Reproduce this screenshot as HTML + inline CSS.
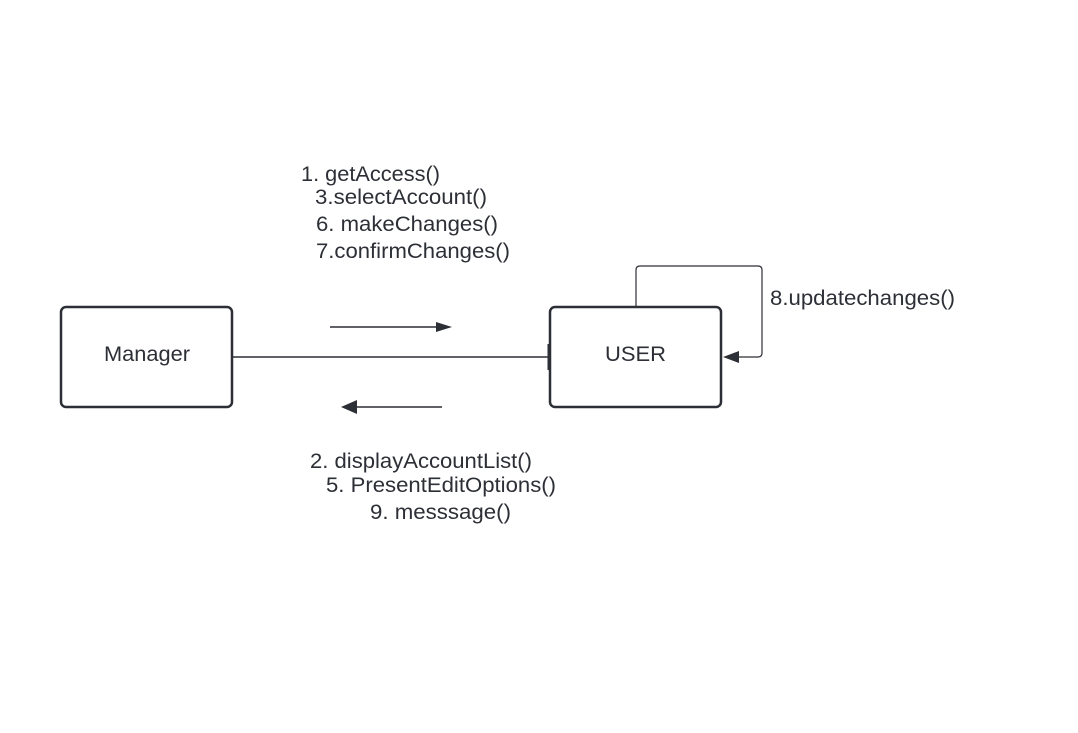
<!DOCTYPE html>
<html><head><meta charset="utf-8"><style>
html,body{margin:0;padding:0;background:#fff;}
svg text{font-family:"Liberation Sans",sans-serif;fill:#2d2f36;font-size:21px;}
</style></head><body>
<svg width="1078" height="728" viewBox="0 0 1078 728" xmlns="http://www.w3.org/2000/svg">
<rect width="1078" height="728" fill="#fff"/>
<rect x="61" y="307" width="171" height="100" rx="5" fill="#fff" stroke="#2d2f36" stroke-width="2.5"/>
<rect x="550" y="307" width="171" height="100" rx="5" fill="#fff" stroke="#2d2f36" stroke-width="2.5"/>
<text x="104" y="361" textLength="86" lengthAdjust="spacingAndGlyphs">Manager</text>
<text x="605" y="361" textLength="61" lengthAdjust="spacingAndGlyphs">USER</text>
<line x1="232" y1="357" x2="550" y2="357" stroke="#2d2f36" stroke-width="1.5"/>
<line x1="549" y1="344" x2="549" y2="370" stroke="#2d2f36" stroke-width="3"/>
<line x1="330" y1="327" x2="438" y2="327" stroke="#2d2f36" stroke-width="1.5"/>
<polygon points="452,327 436,322 436,332" fill="#2d2f36"/>
<line x1="355" y1="407" x2="442" y2="407" stroke="#2d2f36" stroke-width="1.5"/>
<polygon points="341,407 357,400 357,414" fill="#2d2f36"/>
<path d="M636 307 V270 Q636 266 640 266 H758 Q762 266 762 270 V353 Q762 357 758 357 H736" fill="none" stroke="#2d2f36" stroke-width="1.2"/>
<polygon points="723,357 739,351 739,363" fill="#2d2f36"/>
<text x="301" y="181" textLength="139" lengthAdjust="spacingAndGlyphs">1. getAccess()</text>
<text x="315" y="204" textLength="172" lengthAdjust="spacingAndGlyphs">3.selectAccount()</text>
<text x="316" y="231" textLength="182" lengthAdjust="spacingAndGlyphs">6. makeChanges()</text>
<text x="316" y="258" textLength="194" lengthAdjust="spacingAndGlyphs">7.confirmChanges()</text>
<text x="770" y="305" textLength="185" lengthAdjust="spacingAndGlyphs">8.updatechanges()</text>
<text x="310" y="468" textLength="222" lengthAdjust="spacingAndGlyphs">2. displayAccountList()</text>
<text x="326" y="492" textLength="230" lengthAdjust="spacingAndGlyphs">5. PresentEditOptions()</text>
<text x="370" y="519" textLength="141" lengthAdjust="spacingAndGlyphs">9. messsage()</text>
</svg>
</body></html>
